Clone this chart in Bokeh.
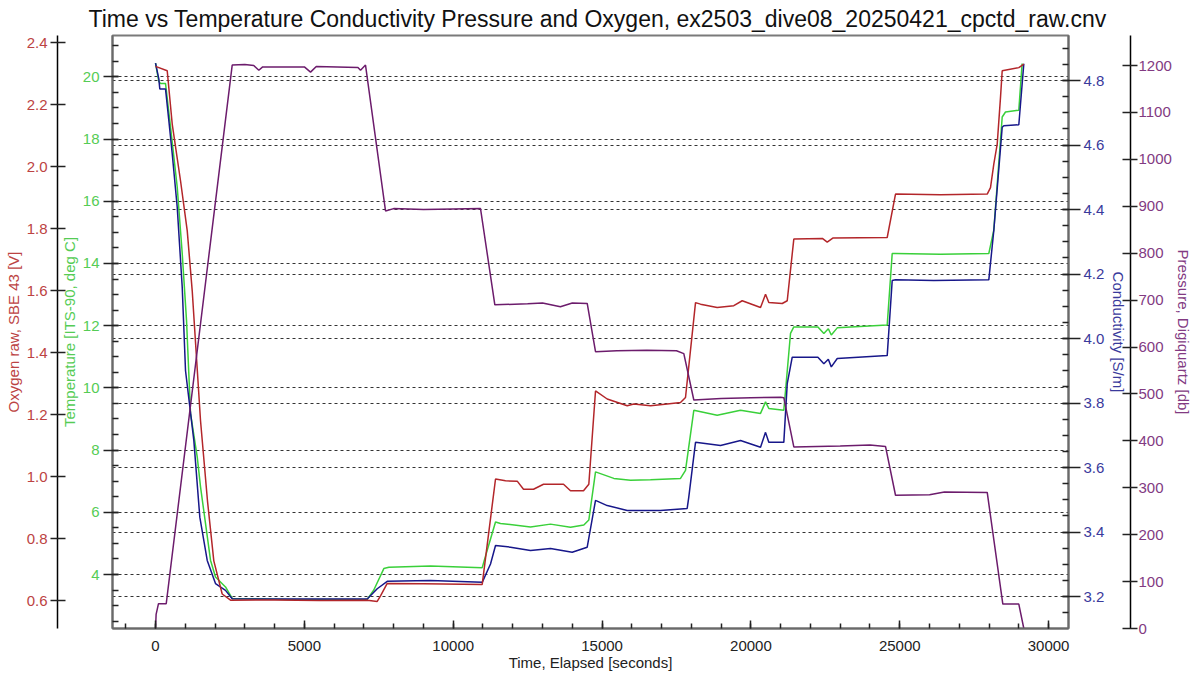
from bokeh.plotting import figure
from bokeh.models import Range1d, LinearAxis, FixedTicker, Grid, PrintfTickFormatter
from bokeh.embed import file_html
from bokeh.resources import INLINE

TITLE = "Time vs Temperature Conductivity Pressure and Oxygen, ex2503_dive08_20250421_cpctd_raw.cnv"
X_LABEL = "Time, Elapsed [seconds]"
OXY_LABEL = "Oxygen raw, SBE 43 [V]"
TEMP_LABEL = "Temperature [ITS-90, deg C]"
COND_LABEL = "Conductivity [S/m]"
PRES_LABEL = "Pressure, Digiquartz [db]"

# ---- tick values ----
time_major = [0, 5000, 10000, 15000, 20000, 25000, 30000]
time_minor = [-1000, 0, 1000, 2000, 3000, 4000, 5000, 6000, 7000, 8000, 9000, 10000,
              11000, 12000, 13000, 14000, 15000, 16000, 17000, 18000, 19000, 20000,
              21000, 22000, 23000, 24000, 25000, 26000, 27000, 28000, 29000, 30000]
temp_major = [4, 6, 8, 10, 12, 14, 16, 18, 20]
temp_minor = [2.5, 3.0, 3.5, 4.0, 4.5, 5.0, 5.5, 6.0, 6.5, 7.0, 7.5, 8.0, 8.5, 9.0, 9.5,
              10.0, 10.5, 11.0, 11.5, 12.0, 12.5, 13.0, 13.5, 14.0, 14.5, 15.0, 15.5,
              16.0, 16.5, 17.0, 17.5, 18.0, 18.5, 19.0, 19.5, 20.0, 20.5, 21.0]
oxy_major = [0.6, 0.8, 1.0, 1.2, 1.4, 1.6, 1.8, 2.0, 2.2, 2.4]
cond_major = [3.2, 3.4, 3.6, 3.8, 4.0, 4.2, 4.4, 4.6, 4.8]
cond_minor = [3.15, 3.2, 3.25, 3.3, 3.35, 3.4, 3.45, 3.5, 3.55, 3.6, 3.65, 3.7, 3.75,
              3.8, 3.85, 3.9, 3.95, 4.0, 4.05, 4.1, 4.15, 4.2, 4.25, 4.3, 4.35, 4.4,
              4.45, 4.5, 4.55, 4.6, 4.65, 4.7, 4.75, 4.8, 4.85, 4.9]
pres_major = [0, 100, 200, 300, 400, 500, 600, 700, 800, 900, 1000, 1100, 1200]

# ---- series (time in seconds) ----
temp_t = [0, 111, 170, 335, 504, 729, 897, 1041, 1176, 1401,
          1512, 1847, 2015, 2351, 2576, 4500, 7111, 7333, 7669, 7837,
          9237, 10974, 11142, 11421, 11589, 12596, 13268, 13940, 14387, 14555,
          14780, 15395, 15956, 16627, 17635, 17803, 18082, 18867, 19651, 20323,
          20491, 20601, 21105, 21330, 21441, 22250, 22450, 22600, 22700, 22900,
          24578, 24746, 24857, 26369, 27991, 28159, 28441, 28552, 28999, 29110]
temp_v = [20.44, 19.85, 19.79, 19.79, 18.39, 16.46, 14.32, 12.18, 9.18, 7.78,
          6.82, 4.46, 3.92, 3.60, 3.23, 3.20, 3.20, 3.50, 4.19, 4.23,
          4.27, 4.22, 4.78, 5.69, 5.64, 5.53, 5.62, 5.52, 5.59, 5.75,
          7.30, 7.09, 7.03, 7.05, 7.09, 7.35, 9.28, 9.12, 9.28, 9.18,
          9.55, 9.34, 9.28, 11.75, 11.96, 11.96, 11.75, 11.90, 11.70, 11.93,
          12.02, 14.32, 14.32, 14.30, 14.32, 15.07, 18.71, 18.87, 18.93, 20.43]

cond_t = [0, 111, 144, 336, 447, 561, 729, 897, 1008, 1287,
          1488, 1737, 2015, 2351, 2576, 4500, 7111, 7447, 7783, 9237,
          10974, 11253, 11421, 11925, 12596, 13268, 13997, 14501, 14780, 15173,
          15845, 16963, 17859, 17913, 18139, 18979, 19651, 20323, 20491, 20601,
          21105, 21220, 21388, 22250, 22450, 22600, 22700, 22900, 24578, 24746,
          24857, 26144, 27991, 28159, 28441, 28495, 28999, 29167]
cond_v = [4.854, 4.805, 4.774, 4.774, 4.676, 4.573, 4.407, 4.159, 3.900, 3.684,
          3.446, 3.312, 3.240, 3.219, 3.193, 3.192, 3.192, 3.224, 3.247, 3.250,
          3.244, 3.301, 3.358, 3.353, 3.343, 3.349, 3.337, 3.353, 3.498, 3.482,
          3.467, 3.467, 3.473, 3.508, 3.678, 3.668, 3.684, 3.663, 3.709, 3.678,
          3.678, 3.860, 3.942, 3.942, 3.922, 3.936, 3.912, 3.938, 3.947, 4.180,
          4.182, 4.180, 4.182, 4.335, 4.655, 4.660, 4.663, 4.852]

oxy_t = [0, 393, 561, 840, 1065, 1233, 1512, 1747, 1958, 2240,
         2519, 4000, 5500, 7111, 7447, 7558, 7783, 9000, 10974, 11421,
         11757, 12150, 12361, 12697, 13033, 13705, 13940, 14377, 14555, 14780,
         15173, 15845, 16066, 16627, 17188, 17635, 17803, 18139, 18307, 18867,
         19425, 19708, 20323, 20491, 20601, 21052, 21220, 21441, 22400, 22563,
         22750, 24578, 24857, 26369, 27938, 28048, 28159, 28273, 28384, 28441,
         28999, 29167]
oxy_v = [2.323, 2.309, 2.137, 1.954, 1.793, 1.599, 1.180, 0.920, 0.728, 0.621,
         0.601, 0.602, 0.600, 0.601, 0.597, 0.615, 0.655, 0.654, 0.652, 0.992,
         0.986, 0.985, 0.959, 0.959, 0.975, 0.975, 0.954, 0.954, 0.975, 1.276,
         1.250, 1.228, 1.234, 1.228, 1.234, 1.239, 1.255, 1.561, 1.556, 1.545,
         1.551, 1.567, 1.545, 1.588, 1.561, 1.558, 1.567, 1.766, 1.768, 1.756,
         1.769, 1.771, 1.911, 1.909, 1.911, 1.932, 2.008, 2.072, 2.223, 2.309,
         2.319, 2.330]

pres_t = [0, 20, 100, 360, 2576, 3000, 3300, 3470, 3600, 5000,
          5207, 5400, 6800, 6886, 7054, 7726, 8000, 9000, 10000, 10917,
          11398, 12500, 13000, 13600, 14000, 14501, 14780, 15500, 16500, 17500,
          17746, 18082, 19000, 20000, 21000, 21105, 21441, 23000, 24000, 24521,
          24857, 26000, 26500, 27938, 28462, 28999, 29167]
pres_v = [0, 30, 53, 53, 1201, 1202, 1200, 1190, 1197, 1197,
          1186, 1198, 1196, 1190, 1201, 890, 895, 893, 894, 895,
          690, 692, 694, 686, 694, 693, 590, 592, 593, 592,
          586, 487, 490, 492, 493, 492, 387, 389, 391, 388,
          284, 285, 291, 290, 52, 52, 0]

# ---- colours ----
OXY_C, OXY_T = "#B3262A", "#BC4343"
TEMP_C, TEMP_T = "#3AD03A", "#55CC55"
COND_C, COND_T = "#17178A", "#3A3A9C"
PRES_C, PRES_T = "#6C1C6C", "#823A82"
FONT = "Liberation Sans"

p = figure(width=1200, height=675,
           x_range=Range1d(-1445, 30668), y_range=Range1d(2.264, 21.33),
           output_backend="svg", toolbar_location=None,
           min_border_left=112, min_border_right=132,
           min_border_top=35, min_border_bottom=47,
           title=TITLE, background_fill_color="white", border_fill_color="white")
p.extra_y_ranges = {"oxy": Range1d(0.5097, 2.4226),
                    "cond": Range1d(3.1008, 4.9396),
                    "pres": Range1d(0, 1264)}

p.title.text_font = FONT
p.title.text_font_size = "23px"
p.title.text_font_style = "normal"
p.title.text_color = "#111111"
p.title.align = "left"
p.title.offset = -24
p.title.standoff = 7

p.outline_line_color = "#7a7a7a"
p.outline_line_width = 2


def style(ax, label, lcol, tcol, tick_out, tick_in, mtick_in, lstand, alstand,
          line_col="#6a6a6a", line_w=2, fmt="%d"):
    ax.axis_label = label
    ax.axis_label_text_font = FONT
    ax.axis_label_text_font_size = "15px"
    ax.axis_label_text_font_style = "normal"
    ax.axis_label_text_color = lcol
    ax.axis_label_standoff = alstand
    ax.major_label_text_font = FONT
    ax.major_label_text_font_size = "15px"
    ax.major_label_text_color = tcol
    ax.major_label_standoff = lstand
    ax.major_tick_out = tick_out
    ax.major_tick_in = tick_in
    ax.major_tick_line_color = "#222222"
    ax.major_tick_line_width = 1.5
    ax.minor_tick_out = 0
    ax.minor_tick_in = mtick_in
    ax.minor_tick_line_color = "#222222" if mtick_in else None
    ax.minor_tick_line_width = 1.5
    ax.axis_line_color = line_col
    ax.axis_line_width = line_w
    ax.formatter = PrintfTickFormatter(format=fmt)


# x axis
xa = p.xaxis[0]
xa.ticker = FixedTicker(ticks=time_major, minor_ticks=time_minor)
style(xa, X_LABEL, "#222222", "#222222", 0, 8, 5, 12, 0)

# temperature (inner left)
ta = p.yaxis[0]
ta.ticker = FixedTicker(ticks=temp_major, minor_ticks=temp_minor)
style(ta, TEMP_LABEL, TEMP_T, TEMP_T, 9, 6, 6, 4, 2)

# oxygen (outer left)
oa = LinearAxis(y_range_name="oxy")
oa.ticker = FixedTicker(ticks=oxy_major)
style(oa, OXY_LABEL, OXY_T, OXY_T, 7, 8, 0, 3, 2, line_col="#000000", line_w=1.5, fmt="%.1f")
p.add_layout(oa, "left")

# conductivity (inner right)
ca = LinearAxis(y_range_name="cond")
ca.ticker = FixedTicker(ticks=cond_major, minor_ticks=cond_minor)
style(ca, COND_LABEL, COND_T, COND_T, 12, 6, 6, 3, 3, fmt="%.1f")
p.add_layout(ca, "right")

# pressure (outer right)
pa = LinearAxis(y_range_name="pres")
pa.ticker = FixedTicker(ticks=pres_major)
style(pa, PRES_LABEL, PRES_T, PRES_T, 7, 8, 0, 1, 0, line_col="#000000", line_w=1.5)
p.add_layout(pa, "right")

# grids
p.xgrid.visible = False
p.ygrid[0].ticker = FixedTicker(ticks=temp_major)
p.ygrid[0].grid_line_color = "#333333"
p.ygrid[0].grid_line_dash = "3 3"
p.ygrid[0].grid_line_width = 1
cg = Grid(dimension=1, ticker=FixedTicker(ticks=cond_major), y_range_name="cond",
          grid_line_color="#333333", grid_line_dash="3 3", grid_line_width=1)
p.add_layout(cg)

# series
p.line(temp_t, temp_v, line_color=TEMP_C, line_width=1.5)
p.line(cond_t, cond_v, line_color=COND_C, line_width=1.5, y_range_name="cond")
p.line(oxy_t, oxy_v, line_color=OXY_C, line_width=1.5, y_range_name="oxy")
p.line(pres_t, pres_v, line_color=PRES_C, line_width=1.5, y_range_name="pres")

open("out.html", "w").write(file_html(p, INLINE))
